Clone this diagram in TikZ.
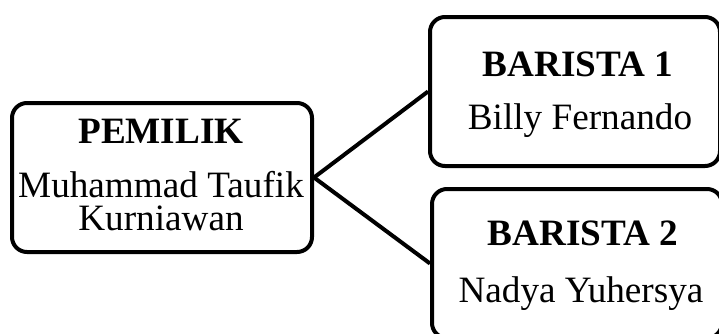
\documentclass[tikz,border=0pt]{standalone}
\usepackage{fontspec}
\setmainfont{Liberation Serif}
\begin{document}
\begin{tikzpicture}[x=1pt,y=1pt,
  card/.style={draw=black, line width=4pt, rounded corners=15pt, fill=white, inner sep=0pt},
  txt/.style={inner sep=0pt, anchor=base, font=\fontsize{37.2}{40}\selectfont},
  link/.style={draw=black, line width=4pt}]
\useasboundingbox (0,0) rectangle (719,333);
\clip (0,0) rectangle (719,333);
\fill[white] (0,0) rectangle (719,333);
% boxes
\node[card, minimum width=300pt, minimum height=149pt] (own) at (162,155.5) {};
\node[card, minimum width=290pt, minimum height=149pt] (b1) at (575,241.5) {};
\node[card, minimum width=290pt, minimum height=149pt] (b2) at (577,69.5) {};
% connectors
\draw[link] (own.east) -- (b1.west);
\draw[link] (own.east) -- (b2.west);
% texts
\node[txt] (ownt) at (161,190) {\textbf{PEMILIK}};
\node[txt] (ownn1) at (161,136) {Muhammad Taufik};
\node[txt] (ownn2) at (161,103) {Kurniawan};
\node[txt] (b1t) at (578,257) {\textbf{BARISTA 1}};
\node[txt] (b1n) at (580,204) {Billy Fernando};
\node[txt] (b2t) at (583,88) {\textbf{BARISTA 2}};
\node[txt] (b2n) at (581,31) {Nadya Yuhersya};
\end{tikzpicture}
\end{document}
